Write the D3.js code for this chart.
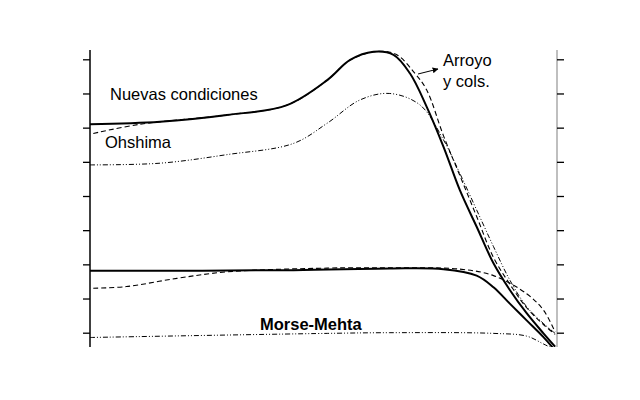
<!DOCTYPE html><html><head><meta charset="utf-8"><script src="https://cdn.jsdelivr.net/npm/d3@7"></script>
<style>body{margin:0;background:#fff}</style></head><body><svg width="640" height="400"></svg>
<script>
const yTicks=[0,1,2,3,4,5,6,7,8];
const nuevasX=[0,15,29.3,42.2,50.8,55.7,60.7,65,68.5,72.1,75.7,79.2,82.8,86.4,89.9,93.5,97.1,99.6];
const nuevasY=[6.10,6.17,6.37,6.66,7.39,7.98,8.22,8.13,7.59,6.61,5.44,4.17,3.10,2.03,1.25,0.57,-0.02,-0.41];
const arroyoX=[0.7,10.7,29.3,42.2,50.8,55.7,61.5,65.5,69.5,72.1,75.7,79.2,82.8,86.4,89.9,93.5,97.1,99.6];
const arroyoY=[5.83,6.10,6.37,6.66,7.39,7.98,8.23,8.15,7.6,7.1,5.76,4.6,3.4,2.2,1.42,0.73,0.24,-0.05];
const ohsX=[0,15,29.3,43.6,50.8,57.8,64.2,70.7,75.7,79.2,82.8,86.4,89.9,93.5,97.1,99.6];
const ohsY=[4.91,4.96,5.21,5.54,6.13,6.81,7.0,6.66,5.64,4.66,3.59,2.52,1.54,0.76,0.27,-0.02];
const lowX=[0,43.6,64.2,75.7,82.8,86.4,89.9,93.5,97.1,99.6];
const lowY=[1.81,1.83,1.88,1.86,1.67,1.33,0.85,0.36,-0.13,-0.52];
const lowDX=[0.7,7.8,18.6,29.3,50.8,64.2,79.2,86.4,93.5,97.1,99.6];
const lowDY=[1.30,1.35,1.59,1.78,1.89,1.9,1.86,1.67,1.14,0.66,0.02];
const mmX=[0,50.8,64.2,86.4,93.5,97.1,99.6];
const mmY=[-0.14,-0.02,0,-0.02,-0.1,-0.33,-0.5];
const svg=d3.select("svg");
const x=d3.scaleLinear().domain([0,100]).range([90,557]);
const y=d3.scaleLinear().domain([0,8]).range([332.7,59.3]);
svg.append("clipPath").attr("id","c").append("rect").attr("x",90).attr("y",40).attr("width",467).attr("height",307);
svg.append("line").attr("x1",90).attr("x2",90).attr("y1",y(8.27)).attr("y2",y(-0.42)).attr("stroke","#000").attr("stroke-width",1.5);
svg.append("line").attr("x1",557).attr("x2",557).attr("y1",y(8.27)).attr("y2",y(-0.42)).attr("stroke","#aaa").attr("stroke-width",1.5);
const la=svg.append("g").attr("transform","translate(90,0)").call(d3.axisLeft(y).tickValues(yTicks).tickFormat("").tickSize(7).tickSizeOuter(0));
const ra=svg.append("g").attr("transform","translate(557,0)").call(d3.axisRight(y).tickValues(yTicks).tickFormat("").tickSize(7).tickSizeOuter(0));
[la,ra].forEach(a=>{a.select(".domain").remove();a.selectAll("line").attr("stroke-width",1.3);});
const line=d3.line().curve(d3.curveCatmullRom.alpha(0.5));
function draw(xs,ys,dash,w){
  svg.append("path").attr("clip-path","url(#c)").attr("d",line(xs.map((v,i)=>[x(v),y(ys[i])]))).attr("fill","none").attr("stroke","#000").attr("stroke-width",w).attr("stroke-dasharray",dash);
}
draw(ohsX,ohsY,"5,2,1,2,1,2",1);
draw(arroyoX,arroyoY,"5,3",1.1);
draw(nuevasX,nuevasY,null,2);
draw(lowDX,lowDY,"5,3",1.1);
draw(lowX,lowY,null,2);
draw(mmX,mmY,"5,2,1,2,1,2",1);
const f="Liberation Sans, Arial, sans-serif";
function t(s,xx,yy,b){svg.append("text").attr("x",xx).attr("y",yy).text(s).attr("font-family",f).attr("font-size",16.5).attr("font-weight",b?"bold":"normal");}
t("Nuevas condiciones",110,100);
t("Ohshima",105,148);
t("Arroyo",443,66);
t("y cols.",443,87);
t("Morse-Mehta",260,330,true);
svg.append("defs").append("marker").attr("id","ar").attr("viewBox","0 0 10 10").attr("refX",9).attr("refY",5).attr("markerWidth",6).attr("markerHeight",6).attr("orient","auto").append("path").attr("d","M0,0L10,5L0,10z");
svg.append("line").attr("x1",418).attr("y1",74).attr("x2",438).attr("y2",69).attr("stroke","#000").attr("marker-end","url(#ar)");
</script></body></html>
